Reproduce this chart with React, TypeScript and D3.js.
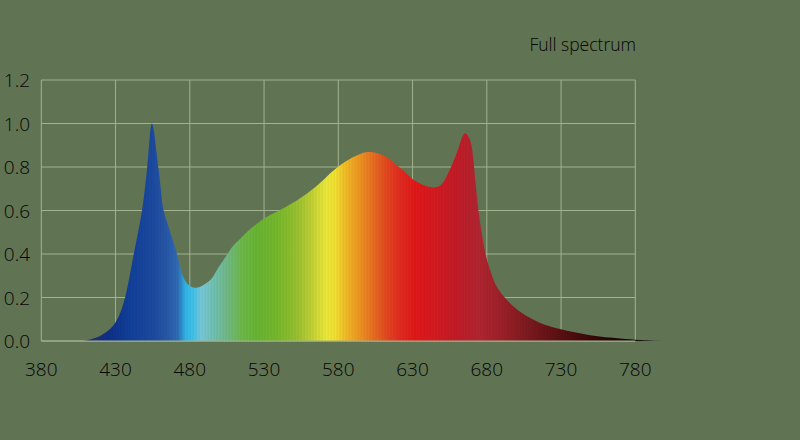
import React from "react";
import * as d3 from "d3";

const wavelengths = [408.5, 417.5, 424, 428.7, 433, 436.4, 439.7, 442, 447.8, 451.2, 454.5, 459, 462.4, 465.7, 471.4, 474.7, 478, 482.6, 487, 493.8, 498.3, 502.8, 509.5, 514, 520.7, 532, 543, 554, 566, 577, 588, 600, 610.5, 622, 633, 644, 649, 655, 659.7, 665.3, 668.7, 671, 672.2, 674.4, 676.6, 678.8, 682.2, 686.7, 693.4, 700, 708, 716, 729.3, 749.5, 769.7, 783, 801];
const intensity = [0, 0.017, 0.043, 0.074, 0.127, 0.2, 0.307, 0.39, 0.6, 0.79, 1.0, 0.79, 0.6, 0.525, 0.4, 0.31, 0.266, 0.246, 0.25, 0.28, 0.327, 0.373, 0.44, 0.47, 0.515, 0.571, 0.61, 0.655, 0.716, 0.785, 0.838, 0.869, 0.853, 0.793, 0.731, 0.706, 0.717, 0.786, 0.863, 0.955, 0.924, 0.832, 0.74, 0.6, 0.495, 0.41, 0.326, 0.25, 0.19, 0.147, 0.11, 0.083, 0.055, 0.027, 0.012, 0.005, 0];

const xTicks = [380, 430, 480, 530, 580, 630, 680, 730, 780];
const yTicks = [0, 0.2, 0.4, 0.6, 0.8, 1.0, 1.2];

const stopNm = [405, 415, 425, 440, 455, 465, 472, 477, 482, 488, 496, 505, 515, 525, 540, 552, 562, 572, 578, 584, 592, 602, 612, 622, 632, 645, 660, 675, 690, 705, 720, 740, 760, 780, 792, 801];
const stopColor = ["#3a4070", "#1e2e70", "#0f2f88", "#12409a", "#1c4a9e", "#2858a8", "#2f6cb4", "#30b4e6", "#40c0e8", "#78c8d8", "#70c0b0", "#70b888", "#6cb848", "#68b432", "#78b82c", "#98c030", "#c0d034", "#ece83a", "#f2e030", "#f0c028", "#ee9e22", "#e87420", "#e24a20", "#e02a20", "#e01818", "#d41a22", "#c01c28", "#b02630", "#9c2028", "#801c20", "#681418", "#4a0c0c", "#280606", "#100404", "#303030", "#808080"];

const title = "Full spectrum";

export default function App() {
  const W = 800, H = 440;
  const x = d3.scaleLinear().domain([380, 780]).range([41.3, 635.3]);
  const y = d3.scaleLinear().domain([0, 1.2]).range([341, 80]);
  const data = wavelengths.map((w, i) => ({ w, v: intensity[i] }));
  const area = d3.area<{ w: number; v: number }>()
    .x(d => x(d.w))
    .y0(y(0))
    .y1(d => Math.min(y(0), y(d.v)))
    .curve(d3.curveCatmullRom.alpha(0.5));
  const grid = "#a3b38f";
  const font = "'Open Sans', 'Noto Sans', sans-serif";
  const textColor = "#050505";
  const stripes = d3.range(x(405), x(801), 3);
  return (
    <svg width={W} height={H} style={{ position: "absolute", left: 0, top: 0 }}>
      <defs>
        <linearGradient id="spec" gradientUnits="userSpaceOnUse" x1={x(stopNm[0])} x2={x(stopNm[stopNm.length - 1])} y1={0} y2={0}>
          {stopNm.map((n, i) => (
            <stop key={i} offset={(x(n) - x(stopNm[0])) / (x(stopNm[stopNm.length - 1]) - x(stopNm[0]))} stopColor={stopColor[i]} />
          ))}
        </linearGradient>
        <clipPath id="areaClip">
          <path d={area(data) || ""} />
        </clipPath>
      </defs>
      <rect width={W} height={H} fill="#607353" />
      {yTicks.map(t => (
        <line key={"h" + t} x1={x(380)} x2={x(780)} y1={y(t)} y2={y(t)} stroke={grid} strokeWidth={1} />
      ))}
      {xTicks.map(t => (
        <line key={"v" + t} x1={x(t)} x2={x(t)} y1={y(0)} y2={y(1.2)} stroke={grid} strokeWidth={1} />
      ))}
      <path d={area(data) || ""} fill="url(#spec)" />
      <g clipPath="url(#areaClip)">
        {stripes.map((s, i) => (
          <rect key={i} x={s} y={y(1.2)} width={1.5} height={y(0) - y(1.2)} fill="#000" opacity={0.035} />
        ))}
      </g>
      <line x1={x(380)} x2={x(780)} y1={y(0)} y2={y(0)} stroke={grid} strokeWidth={1} />
      {yTicks.map(t => (
        <text key={"yl" + t} x={30} y={y(t) + 7} textAnchor="end" fontFamily={font} fontWeight={300} fontSize={19} fill={textColor}>
          {t.toFixed(1)}
        </text>
      ))}
      {xTicks.map(t => (
        <text key={"xl" + t} x={x(t)} y={376} textAnchor="middle" fontFamily={font} fontWeight={300} fontSize={19} fill={textColor}>
          {t}
        </text>
      ))}
      <text x={636} y={51} textAnchor="end" fontFamily={font} fontWeight={300} fontSize={17.5} fill={textColor}>
        {title}
      </text>
    </svg>
  );
}
